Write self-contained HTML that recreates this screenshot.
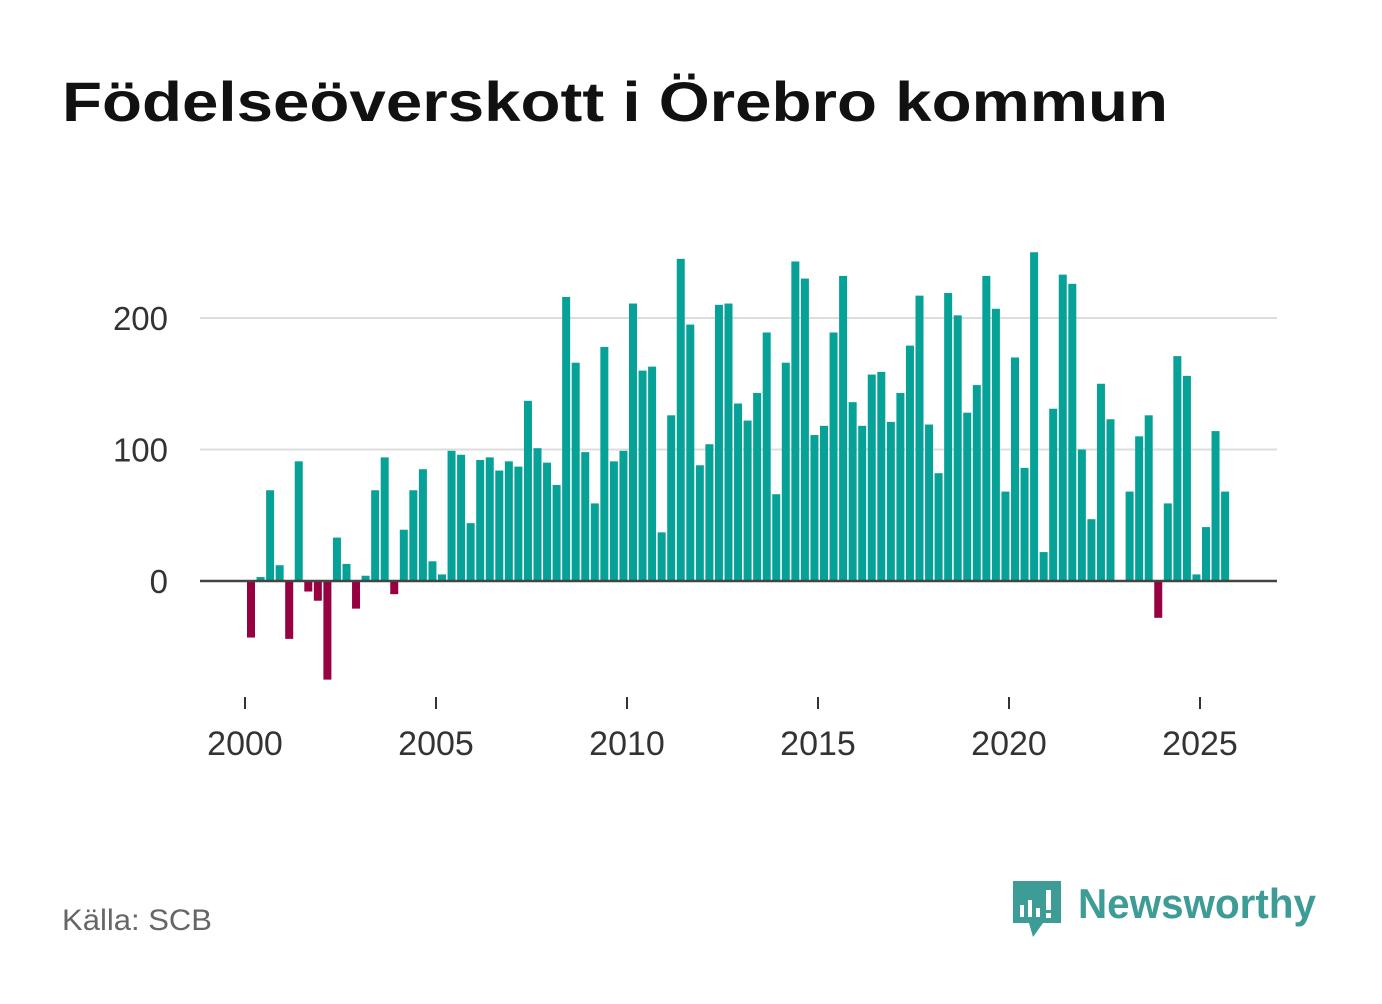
<!DOCTYPE html>
<html><head><meta charset="utf-8"><style>
body{margin:0;background:#fff;width:1382px;height:999px;overflow:hidden;font-family:"Liberation Sans",sans-serif}
</style></head><body>
<svg width="1382" height="999" xmlns="http://www.w3.org/2000/svg">
<text x="62" y="121" font-size="56" font-weight="bold" fill="#111" textLength="1106" lengthAdjust="spacingAndGlyphs" font-family="Liberation Sans, sans-serif">Födelseöverskott i Örebro kommun</text>
<g id="grid"></g><g id="bars"></g><g id="axis"></g>
<text x="62" y="930" font-size="30" fill="#666" textLength="150" lengthAdjust="spacingAndGlyphs">Källa: SCB</text>
<g>
<path d="M1013 881h48v42h-18l-10 14-4-14h-16z" fill="#3d9c95"/>
<rect x="1020" y="905" width="4" height="12" fill="#fff"/><rect x="1028" y="900" width="4" height="17" fill="#fff"/><rect x="1036" y="908" width="4" height="9" fill="#fff"/><rect x="1046" y="890" width="5" height="20" fill="#fff"/><rect x="1046" y="913" width="5" height="5" fill="#fff"/>
<text x="1078" y="918" font-size="42" font-weight="bold" fill="#3d9c95" textLength="238" lengthAdjust="spacingAndGlyphs">Newsworthy</text>
</g>
<script>
const years=[2000,2005,2010,2015,2020,2025];
const yTicks=[0,100,200];
const values=[-43,3,69,12,-44,91,-8,-15,-75,33,13,-21,4,69,94,-10,39,69,85,15,5,99,96,44,92,94,84,91,87,137,101,90,73,216,166,98,59,178,91,99,211,160,163,37,126,245,195,88,104,210,211,135,122,143,189,66,166,243,230,111,118,189,232,136,118,157,159,121,143,179,217,119,82,219,202,128,149,232,207,68,170,86,250,22,131,233,226,100,47,150,123,0,68,110,126,-28,59,171,156,5,41,114,68];
const NS="http://www.w3.org/2000/svg";
const y=v=>581-v*1.315;
const xYear=t=>245+(t-2000)*38.2;
function mk(tag,attrs,parent){const e=document.createElementNS(NS,tag);for(const k in attrs)e.setAttribute(k,attrs[k]);document.getElementById(parent).appendChild(e);return e;}
yTicks.forEach(v=>{
 if(v!==0){const l=mk('line',{x1:200,x2:1277,y1:y(v),y2:y(v),stroke:'#ddd','stroke-width':2},'grid');
 
 }
 const t=mk('text',{x:168,y:y(v)+12,'font-size':33,fill:'#333','text-anchor':'end'},'grid');t.textContent=v;
 
 
});
values.forEach((v,i)=>{
 const cx=xYear(2000+i/4)+6;
 const r=mk('rect',{x:cx-4,y:Math.min(y(v),581),width:8,height:Math.abs(y(v)-581),fill:v<0?'#970041':'#06a297'},'bars');
 
 
});
const zl=mk('line',{x1:200,x2:1277,y1:581,y2:581,stroke:'#444','stroke-width':2.5},'axis');


years.forEach(yr=>{
 const x=xYear(yr);
 const tk=mk('line',{x1:x,x2:x,y1:697,y2:709,stroke:'#333','stroke-width':2},'axis');
 
 
 const t=mk('text',{x:x,y:755,'font-size':34,fill:'#333','text-anchor':'middle'},'axis');t.textContent=yr;
 
 
});
</script>
</svg>
</body></html>
